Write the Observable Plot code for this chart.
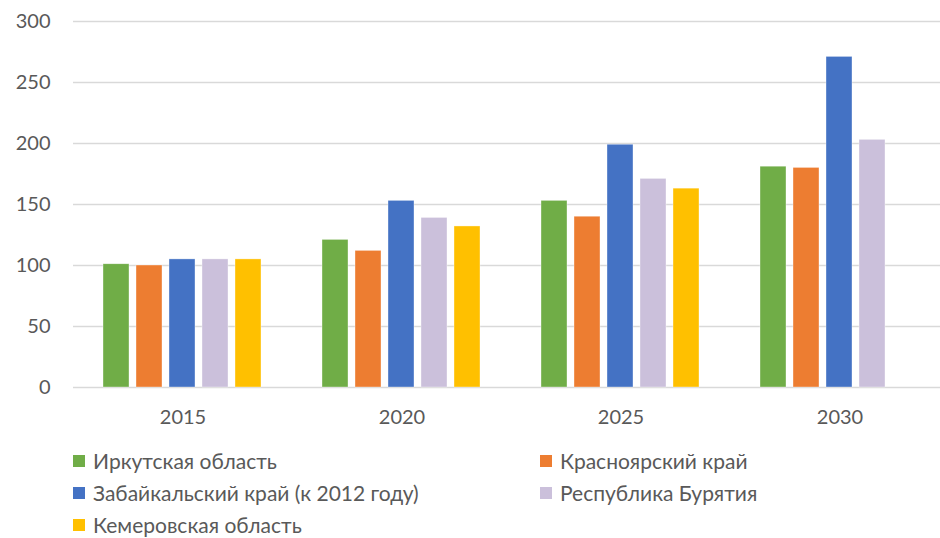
<!DOCTYPE html>
<html>
<head>
<meta charset="utf-8">
<script src="https://cdn.jsdelivr.net/npm/d3@7"></script>
<script src="https://cdn.jsdelivr.net/npm/@observablehq/plot@0.6"></script>
<style>
  body { margin: 0; background: #fff; font-family: Lato, "Open Sans", sans-serif; }
  #wrap { position: relative; width: 940px; height: 538px; overflow: hidden; }
  #legend { position: absolute; left: 0; top: 448px; width: 940px; color: #595959; font-size: 21px; }
  .item { position: absolute; display: flex; align-items: center; white-space: nowrap; line-height: 26px; }
  .sw { width: 12px; height: 12px; margin-right: 8px; }
</style>
</head>
<body>
<div id="wrap"><div id="chart"></div><div id="legend"></div></div>
<script>
const years = ["2015", "2020", "2025", "2030"];
const regions = ["Иркутская область", "Красноярский край", "Забайкальский край (к 2012 году)", "Республика Бурятия", "Кемеровская область"];
const colors = ["#70AD47", "#ED7D31", "#4472C4", "#CBC0DB", "#FFC000"];
const irkutsk = [101, 121, 153, 181];
const krasnoyarsk = [100, 112, 140, 180];
const zabaikal = [105, 153, 199, 271];
const buryatia = [105, 139, 171, 203];
const kemerovo = [105, 132, 163, null];
const yTicks = [0, 50, 100, 150, 200, 250, 300];

const series = [irkutsk, krasnoyarsk, zabaikal, buryatia, kemerovo];
const data = [];
years.forEach((yr, i) => series.forEach((s, j) => {
  if (s[i] != null) data.push({year: yr, region: regions[j], value: s[i]});
}));

const chart = Plot.plot({
  width: 940,
  height: 440,
  marginLeft: 73,
  marginRight: -9,
  marginTop: 21,
  marginBottom: 53,
  style: {fontFamily: "Lato, 'Open Sans', sans-serif", fontSize: "20px", color: "#595959", background: "#fff"},
  fx: {domain: years, padding: 0, label: null},
  x: {domain: regions, paddingInner: 0.2, paddingOuter: 0.86, axis: null},
  y: {domain: [0, 300], label: null},
  color: {domain: regions, range: colors},
  marks: [
    Plot.gridY(yTicks, {stroke: "#D9D9D9", strokeOpacity: 1, strokeWidth: 1.3}),
    Plot.axisY(yTicks, {tickSize: 0, tickPadding: 23, fill: "#595959", fontSize: 20}),
    Plot.axisFx({anchor: "bottom", tickSize: 0, tickPadding: 22, fill: "#595959", fontSize: 20}),
    Plot.barY(data, {fx: "year", x: "region", y: "value", fill: "region", stroke: "#fff", strokeWidth: 0.6, strokeOpacity: 0.6})
  ]
});
document.getElementById("chart").appendChild(chart);

const pos = [[73, 0], [540, 0], [73, 32], [540, 32], [73, 64]];
const legend = document.getElementById("legend");
regions.forEach((r, i) => {
  const d = document.createElement("div");
  d.className = "item";
  d.style.left = pos[i][0] + "px";
  d.style.top = pos[i][1] + "px";
  d.innerHTML = `<span class="sw" style="background:${colors[i]}"></span><span>${r}</span>`;
  legend.appendChild(d);
});
</script>
</body>
</html>
